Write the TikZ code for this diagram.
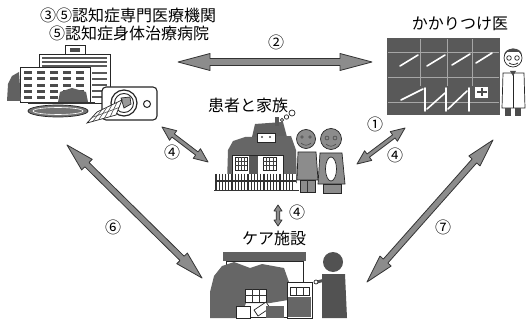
\documentclass[tikz,border=0pt]{standalone}
\usepackage{fontspec}
\newfontfamily\jp{Noto Sans CJK JP}
\usetikzlibrary{calc}

\tikzset{
  ink/.style={draw=black!85, line width=0.7pt},
  dark/.style={fill=black!62},
  mid/.style={fill=black!45},
  lbl/.style={font=\jp\fontsize{16}{18}\selectfont, inner sep=0pt},
  num/.style={font=\jp\fontsize{16}{18}\selectfont, inner sep=0pt},
  arrowbody/.style={fill=black!45, draw=black!80, line width=0.8pt, line join=round},
}

% two-headed block arrow between two named points:
% #1 shaft half width, #2 head half width, #3 head length, #4 from, #5 to
\newcommand\twoway[5]{%
  \filldraw[arrowbody]
    (#4)
    -- ($($(#4)!#3!(#5)$)!#2!90:(#5)$)
    -- ($($(#4)!#3!(#5)$)!#1!90:(#5)$)
    -- ($($(#5)!#3!(#4)$)!#1!-90:(#4)$)
    -- ($($(#5)!#3!(#4)$)!#2!-90:(#4)$)
    -- (#5)
    -- ($($(#5)!#3!(#4)$)!#2!90:(#4)$)
    -- ($($(#5)!#3!(#4)$)!#1!90:(#4)$)
    -- ($($(#4)!#3!(#5)$)!#1!-90:(#5)$)
    -- ($($(#4)!#3!(#5)$)!#2!-90:(#5)$)
    -- cycle;}

\begin{document}
\begin{tikzpicture}[x=1pt, y=-1pt]
\useasboundingbox (0,0) rectangle (526,320);
\fill[white] (0,0) rectangle (526,320);

% ---------- labels ----------
\node[lbl] (hospA) at (128,15) {③⑤認知症専門医療機関};
\node[lbl] (hospB) at (129,33) {⑤認知症身体治療病院};
\node[lbl] (clinic) at (460,24) {かかりつけ医};
\node[lbl] (family) at (248,105) {患者と家族};
\node[lbl] (care) at (274,238) {ケア施設};

\node[num] (n2) at (276,42) {②};
\node[num] (n1) at (375,124) {①};
\node[num] (n4r) at (395,155) {④};
\node[num] (n4l) at (172,152) {④};
\node[num] (n4v) at (297,212) {④};
\node[num] (n6) at (113,227) {⑥};
\node[num] (n7) at (443,227) {⑦};

% ---------- hospital ----------
\draw[ink, fill=white] (65,45) rectangle (85,55);
\fill[black!70] (70,48) rectangle (80,52);
\draw[ink, fill=white] (39,54) rectangle (110,103);
\foreach \y in {58,62,66} \draw[black!65, line width=1.8pt] (42,\y) -- (107,\y);
\foreach \y in {73,79,85,91,97} \draw[black!65, line width=1.6pt] (92,\y) -- (107,\y);
\draw[ink, fill=white] (20,67) rectangle (90,102);
\foreach \i in {0,...,4}
  \foreach \j in {0,...,4}
    \fill[black!70] (24+\i*13, 71+\j*6.3) rectangle ++(8,3.2);
\fill[black!62] (7,101) -- (8,84) -- (12,76) -- (19,72) -- (21,101) -- cycle;
\fill[black!62] (60,92) -- (72,88) -- (86,92) -- (88,102) -- (58,102) -- cycle;
\draw[black!80, line width=1.6pt] (28,103) -- (95,103);
\draw[ink, fill=black!55] (58,111) ellipse [x radius=30, y radius=6];
\draw[white, line width=0.6pt] (58,111) ellipse [x radius=25, y radius=3.5];
% scanner
\draw[ink, line width=1.1pt, fill=white, rounded corners=4] (102,87) rectangle (157,120);
\draw[ink, line width=1.2pt, fill=white] (124,103) circle[radius=13];
\draw[ink, line width=0.9pt] (124,103) circle[radius=9.5];
\draw[ink, fill=black!40] (121,98) -- (130,97) -- (131,104) -- (124,108) -- cycle;
\draw[ink, line width=1pt] (147,104) circle[radius=3.5];
\draw[ink, fill=white] (87,123) -- (97,112) -- (122,100) -- (116,115) -- cycle;
\foreach \t in {0.2,0.4,0.6,0.8}
  \draw[black!70, line width=0.6pt] ($(87,123)!\t!(116,115)$) -- ($(97,112)!\t!(122,100)$);
\draw[black!70, line width=0.6pt] ($(87,123)!0.5!(97,112)$) -- ($(116,115)!0.5!(122,100)$);

% ---------- clinic ----------
\fill[black!65] (387,38) rectangle (500,115);
\foreach \y in {52,77,102} \draw[black!35, line width=0.5pt] (388,\y) -- (499,\y);
\foreach \x in {420,447,472} \draw[black!35, line width=0.5pt] (\x,39) -- (\x,86);
\begin{scope}[white, line width=1.6pt, line cap=round]
  \draw (400,66) -- (418,55);
  \draw (427,66) -- (445,55);
  \draw (452,65) -- (470,54);
  \draw (476,63) -- (492,53);
  \draw (401,100) -- (423,89);
  \draw (425,88) -- (425,111);
  \draw (427,109) -- (445,93);
  \draw (446,88) -- (446,111);
  \draw (448,109) -- (467,91);
  \draw (469,88) -- (469,111);
\end{scope}
\fill[white] (475,87) rectangle (488,98);
\fill[black!70] (480.5,88.5) rectangle (482.5,96.5);
\fill[black!70] (476.5,91.5) rectangle (486.5,93.5);
% doctor
\draw[ink, fill=white] (503,73) -- (524,73) -- (525,108) -- (502,108) -- cycle;
\draw[ink] (513,73) -- (513,108);
\fill[black!70] (505,108) rectangle (511,116);
\fill[black!70] (515,108) rectangle (521,116);
\draw[ink, fill=white] (513,58) circle[radius=9];
\fill[black!70] (504,55) .. controls (505,47) and (521,46) .. (522,55) -- (519,52) -- (507,52) -- cycle;
\draw[ink] (509,58) circle[radius=2.3];
\draw[ink] (517,58) circle[radius=2.3];
\draw[ink] (509,63) .. controls (512,65) and (515,65) .. (518,63);
\fill[black!70] (510,71) -- (516,71) -- (513,76) -- cycle;

% ---------- patient's house ----------
\fill[black!62] (252,137) -- (255,124) -- (283,122) -- (287,137) -- cycle;
\fill[black!65] (275,117) rectangle (279,126);
\fill[black!60] (227,183) -- (228,150) -- (233,141) -- (245,137) -- (291,136) -- (296,150) -- (297,183) -- cycle;
\draw[ink, fill=white] (257,133) rectangle (275,142);
\fill[black!70] (262,137) circle[radius=1.2];
\fill[black!70] (270,137) circle[radius=1.2];
\draw[ink, fill=white] (232,155) rectangle (283,180);
\draw[ink, fill=white] (235,157) rectangle (247,170);
\draw[ink, fill=white] (263,157) rectangle (276,170);
\foreach \x in {238,241,244} \draw[black!75, line width=0.5pt] (\x,157) -- (\x,170);
\foreach \y in {161,165} \draw[black!75, line width=0.5pt] (235,\y) -- (247,\y);
\foreach \x in {266.25,269.5,272.75} \draw[black!75, line width=0.5pt] (\x,157) -- (\x,170);
\foreach \y in {161,165} \draw[black!75, line width=0.5pt] (263,\y) -- (276,\y);
\fill[black!65] (249,156) rectangle (258,179);
\draw[ink, fill=white] (282,120) circle[radius=1.7];
\draw[ink, fill=white] (286.5,117) circle[radius=2.2];
\draw[ink, fill=white] (292,113) circle[radius=3];
% fence
\fill[white] (215,174) rectangle (296,190);
\foreach \x in {216,219.2,...,295} \draw[black!80, line width=1.1pt] (\x,174) -- (\x,190);
\draw[black!80, line width=1pt] (215,181) -- (296,181);
\draw[black!80, line width=0.9pt] (214,190.5) -- (299,190.5);
% couple
\draw[ink, mid] (298,152) -- (316,152) -- (318,180) -- (297,180) -- cycle;
\draw[ink, mid] (300,180) rectangle (315,192);
\draw[black!80] (307.5,180) -- (307.5,192);
\draw[ink, mid] (306,139) circle[radius=9.5];
\draw[black!80] (302,137) circle[radius=1.3];
\draw[black!80] (310,137) circle[radius=1.3];
\draw[black!80] (301,143) .. controls (304,146) and (308,146) .. (311,143);
\draw[ink, mid] (320,153) -- (342,153) -- (345,184) -- (318,184) -- cycle;
\draw[ink, fill=white] (331,169) ellipse [x radius=5.5, y radius=12];
\draw[ink, mid] (323,184) rectangle (341,193);
\draw[ink, mid] (331,139) circle[radius=10.5];
\draw[black!80] (327,138) circle[radius=2];
\draw[black!80] (335,138) circle[radius=2];
\draw[black!80] (326,144) .. controls (329,147) and (333,147) .. (336,144);

% ---------- care home ----------
\fill[black!62] (223,252) rectangle (306,261);
\draw[ink, fill=white] (226,261) rectangle (303,317);
\fill[black!60] (210,318) -- (210,292) -- (214,276) -- (222,266) -- (234,262) -- (250,268) -- (262,264) -- (284,268) -- (290,285) -- (288,300) -- (270,303) -- (246,303) -- (240,318) -- cycle;
\draw[ink, fill=white] (245,289) rectangle (266,302);
\foreach \x in {252,259} \draw[black!80, line width=0.5pt] (\x,289) -- (\x,302);
\draw[black!80, line width=0.5pt] (245,295.5) -- (266,295.5);
\draw[ink, fill=white] (287,282) rectangle (312,318);
\fill[black!60] (288,297) rectangle (311,317);
\draw[ink, fill=white] (290,287) rectangle (309,295);
\foreach \x in {296,303} \draw[black!80] (\x,287) -- (\x,295);
\draw[ink, fill=white] (236,306) rectangle (250,318);
\draw[ink, fill=white] (254,310) -- (266,302) -- (270,308) -- (258,316) -- cycle;
\fill[black!60] (266,306) rectangle (284,318);
% caregiver
\fill[black!68] (322,274) -- (345,274) -- (347,318) -- (322,318) -- cycle;
\fill[black!68] (333,262) circle[radius=10];
\draw[black!68, line width=3pt, line cap=round] (325,280) -- (317,282);
\draw[ink, fill=white] (316,282) circle[radius=2];

% ---------- connectors ----------
\coordinate (hosR) at (178,62);
\coordinate (cliL) at (372,62);
\coordinate (cliBL) at (405,128);
\coordinate (famR) at (357,164);
\coordinate (hosBR) at (162,127);
\coordinate (famL) at (208,162);
\coordinate (famB) at (278,205);
\coordinate (carT) at (278,226);
\coordinate (hosB) at (67,145);
\coordinate (carL) at (202,278);
\coordinate (cliB) at (493,140);
\coordinate (carR) at (367,282);

\twoway{3.5pt}{8.5pt}{32pt}{hosR}{cliL}
\twoway{2pt}{6pt}{14pt}{cliBL}{famR}
\twoway{2pt}{6pt}{14pt}{hosBR}{famL}
\twoway{1.8pt}{4pt}{6pt}{famB}{carT}
\twoway{3pt}{7.5pt}{28pt}{hosB}{carL}
\twoway{3pt}{7.5pt}{28pt}{cliB}{carR}
\end{tikzpicture}
\end{document}
